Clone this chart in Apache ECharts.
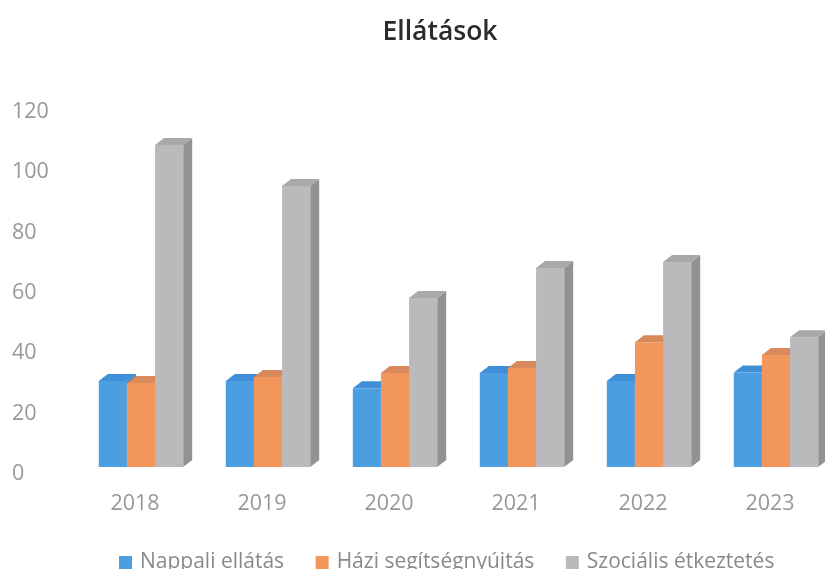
<!DOCTYPE html>
<html><head><meta charset="utf-8">
<style>html,body{margin:0;padding:0;background:#fff;overflow:hidden}#c{width:825px;height:569px}</style>
<script src="https://cdn.jsdelivr.net/npm/echarts@6/dist/echarts.min.js"></script>
</head><body><div id="c"></div>
<script>
const title = 'Ellátások';
const years = ['2018','2019','2020','2021','2022','2023'];
const nappali = [30.2,30.2,27.8,32.8,30.2,33];
const hazi = [29.5,31.5,32.8,34.5,43,38.8];
const szocialis = [108.4,94.8,57.7,67.6,69.6,44.7];
const seriesNames = ['Nappali ellátás','Házi segítségnyújtás','Szociális étkeztetés'];
const yTicks = {min:0,max:120,interval:20};
const frontColors = ['#4b9fe1','#f2965c','#bababd'];
const topColors = ['#3f90d8','#d98a5c','#a9a9aa'];
const sideColors = ['#3a7fbe','#c97f52','#929294'];

const chart = echarts.init(document.getElementById('c'));
function bar3d(i){
  return function(params, api){
    const cat = api.value(0), v = api.value(1);
    const p = api.coord([cat, v]), p0 = api.coord([cat, 0]);
    const bw = api.size([1,0])[0] * 0.2215;
    const dx = 9, dy = 7, lift = 5;
    const x0 = p[0] + 6 - 1.5*bw + i*bw, x1 = x0 + bw;
    const yt = p[1], yb = p0[1] - lift;
    return {type:'group', children:[
      {type:'polygon', shape:{points:[[x1,yt],[x1+dx,yt-dy],[x1+dx,yb-dy],[x1,yb]]}, style:{fill:sideColors[i]}},
      {type:'polygon', shape:{points:[[x0,yt],[x0+dx,yt-dy],[x1+dx,yt-dy],[x1,yt]]}, style:{fill:topColors[i]}},
      {type:'rect', shape:{x:x0,y:yt,width:bw,height:yb-yt}, style:{fill:frontColors[i]}}
    ]};
  };
}
const vals = [nappali,hazi,szocialis];
chart.setOption({
  animation:false,
  backgroundColor:'#fff',
  title:{text:title,left:435,textAlign:'center',top:14,textStyle:{fontFamily:'Open Sans',fontSize:26.5,fontWeight:600,color:'#2b2b2b'}},
  legend:{left:114,top:547,itemWidth:13,itemHeight:13,itemGap:31.5,
    textStyle:{fontFamily:'Open Sans',fontSize:21,color:'#858a8e',padding:[0,0,0,3]},
    data:seriesNames.map(n=>({name:n,icon:'rect'}))},
  grid:{left:71.5,width:762,top:110,height:362,containLabel:false,outerBoundsMode:'none'},
  xAxis:{type:'category',data:years,axisLine:{show:false},axisTick:{show:false},
    axisLabel:{margin:21,fontFamily:'Open Sans',fontSize:21.5,color:'#95999c'}},
  yAxis:{type:'value',min:yTicks.min,max:yTicks.max,interval:yTicks.interval,
    axisLine:{show:false},axisTick:{show:false},splitLine:{show:false},
    axisLabel:{margin:59.5,align:'left',formatter:'{a|{value}}',
      rich:{a:{padding:[4,0,0,0],fontFamily:'Open Sans',fontSize:21.5,color:'#95999c'}}}},
  series:vals.map((d,i)=>({
    type:'custom',name:seriesNames[i],clip:false,
    itemStyle:{color:frontColors[i]},
    encode:{x:0,y:1},
    data:d.map((v,j)=>[j,v]),
    renderItem:bar3d(i)
  }))
});
</script></body></html>
